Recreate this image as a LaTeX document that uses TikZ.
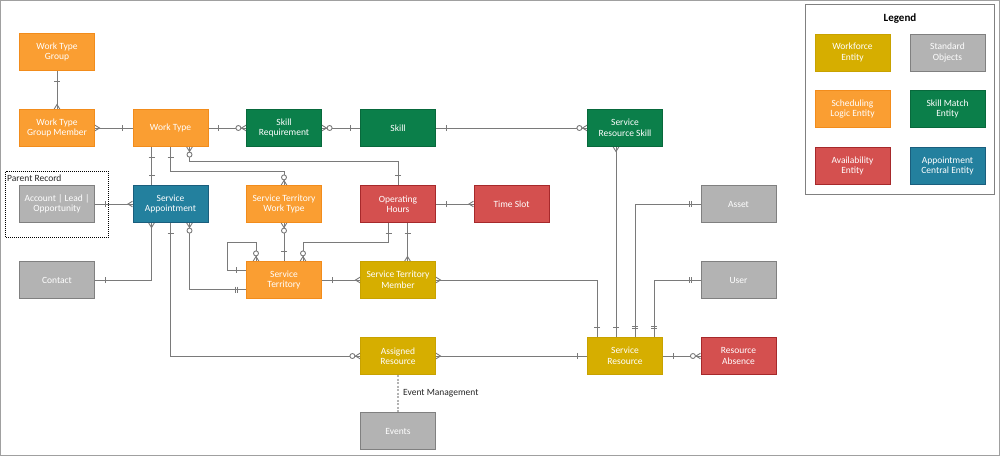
\documentclass[tikz,border=0pt]{standalone}
\usepackage{fontspec}
\setmainfont{Carlito}
\usetikzlibrary{calc}
\definecolor{orgF}{HTML}{FA9E32}\definecolor{orgD}{HTML}{F28C1B}
\definecolor{grnF}{HTML}{0B7F4A}\definecolor{grnD}{HTML}{08693C}
\definecolor{bluF}{HTML}{23809E}\definecolor{bluD}{HTML}{1A5E7D}
\definecolor{redF}{HTML}{D4504F}\definecolor{redD}{HTML}{A6292B}
\definecolor{ylwF}{HTML}{D6AE00}\definecolor{ylwD}{HTML}{C8A200}
\definecolor{gryF}{HTML}{B3B3B3}\definecolor{gryD}{HTML}{808080}
\definecolor{lineC}{HTML}{7A7A7A}
\definecolor{frameC}{HTML}{A0A0A0}
\begin{document}
\begin{tikzpicture}[x=1pt,y=1pt,
  ent/.style={draw, line width=1pt, minimum width=75pt, minimum height=37pt, inner sep=1pt,
    align=center, text=white, font=\fontsize{9.5}{10.5}\selectfont},
  eorg/.style={ent, fill=orgF, draw=orgD},
  egrn/.style={ent, fill=grnF, draw=grnD},
  eblu/.style={ent, fill=bluF, draw=bluD},
  ered/.style={ent, fill=redF, draw=redD},
  eylw/.style={ent, fill=ylwF, draw=ylwD},
  egry/.style={ent, fill=gryF, draw=gryD},
  conn/.style={draw=lineC, line width=0.9pt},
  lbl/.style={font=\fontsize{9.5}{10.5}\selectfont, text=black!85, inner sep=0pt},
  crow/.pic={\draw[conn] (0,2.8)--(4.5,0)--(0,-2.8);},
  ocrow/.pic={\draw[conn] (0,2.8)--(4.5,0)--(0,-2.8);
              \draw[conn, fill=white] (7.6,0) circle[radius=2.5pt];},
  onebar/.pic={\draw[conn] (10,-3)--(10,3);},
  twobar/.pic={\draw[conn] (8.6,-3)--(8.6,3) (11,-3)--(11,3);}
]
\useasboundingbox (0,0) rectangle (1000,-456);
\draw[frameC, line width=1pt] (0.5,-0.5) rectangle (999.5,-455.5);

% entities
\node[eorg] (wtg)  at (57,-52)   {Work Type\\Group};
\node[eorg] (wtgm) at (57,-128)  {Work Type\\Group Member};
\node[eorg] (wt)   at (170.5,-128) {Work Type};
\node[egrn] (sr)   at (284,-128) {Skill\\Requirement};
\node[egrn] (sk)   at (398,-128) {Skill};
\node[egrn] (srs)  at (625,-128) {Service\\Resource Skill};
\node[egry] (acc)  at (57,-204)  {Account | Lead |\\Opportunity};
\node[eblu] (sa)   at (170.5,-204) {Service\\Appointment};
\node[eorg] (stwt) at (284,-204) {Service Territory\\Work Type};
\node[ered] (oh)   at (398,-204) {Operating\\Hours};
\node[ered] (ts)   at (511.5,-204) {Time Slot};
\node[egry] (asset) at (738.5,-204) {Asset};
\node[egry] (contact) at (57,-280) {Contact};
\node[eorg] (st)   at (284,-280) {Service\\Territory};
\node[eylw] (stm)  at (398,-280) {Service Territory\\Member};
\node[egry] (user) at (738.5,-280) {User};
\node[eylw] (ar)   at (398,-356) {Assigned\\Resource};
\node[eylw] (sres) at (625,-356) {Service\\Resource};
\node[ered] (ra)   at (738.5,-356) {Resource\\Absence};
\node[egry] (ev)   at (398,-431) {Events};

% parent record frame
\draw[black, line width=0.8pt, dash pattern=on 1pt off 1pt] (5.5,-171.5) rectangle (108.5,-237);
\node[lbl, anchor=west] (prl) at (7,-178.5) {Parent Record};

% legend
\draw[gryD, line width=1pt] (805,-4.5) rectangle (994.5,-194.5);
\node[lbl, text=black, font=\fontsize{11}{12}\selectfont\bfseries] (legt) at (900,-18.7) {Legend};
\node[eylw] (l1) at (852.5,-52.5) {Workforce\\Entity};
\node[egry] (l2) at (947.5,-52.5) {Standard\\Objects};
\node[eorg] (l3) at (852.5,-109.2) {Scheduling\\Logic Entity};
\node[egrn] (l4) at (947.5,-109.2) {Skill Match\\Entity};
\node[ered] (l5) at (852.5,-166) {Availability\\Entity};
\node[eblu] (l6) at (947.5,-166) {Appointment\\Central Entity};

% connectors
\draw[conn] (wtg.south) -- (wtgm.north);
\path (wtg.south) pic[rotate=270]{onebar} (wtgm.north) pic[rotate=90]{crow};

\draw[conn] (wtgm.east) -- (wt.west);
\path (wtgm.east) pic{crow} (wt.west) pic[rotate=180]{onebar};

\draw[conn] (wt.east) -- (sr.west);
\path (wt.east) pic{onebar} (sr.west) pic[rotate=180]{ocrow};

\draw[conn] (sr.east) -- (sk.west);
\path (sr.east) pic{ocrow} (sk.west) pic[rotate=180]{onebar};

\draw[conn] (sk.east) -- (srs.west);
\path (sk.east) pic{onebar} (srs.west) pic[rotate=180]{ocrow};

\coordinate (srsB) at ([xshift=-9pt]srs.south);
\coordinate (sresA) at ([xshift=-9pt]sres.north);
\draw[conn] (srsB) -- (sresA);
\path (srsB) pic[rotate=270]{crow} (sresA) pic[rotate=90]{onebar};

\coordinate (sresB) at ([xshift=-28pt]sres.north);
\draw[conn] (stm.east) -| (sresB);
\path (stm.east) pic{crow} (sresB) pic[rotate=90]{onebar};

\coordinate (sresC) at ([xshift=10pt]sres.north);
\draw[conn] (asset.west) -| (sresC);
\path (asset.west) pic[rotate=180]{twobar} (sresC) pic[rotate=90]{twobar};

\coordinate (sresD) at ([xshift=29pt]sres.north);
\draw[conn] (user.west) -| (sresD);
\path (user.west) pic[rotate=180]{twobar} (sresD) pic[rotate=90]{twobar};

\draw[conn] (sres.east) -- (ra.west);
\path (sres.east) pic{onebar} (ra.west) pic[rotate=180]{ocrow};

\draw[conn] (ar.east) -- (sres.west);
\path (ar.east) pic{crow} (sres.west) pic[rotate=180]{onebar};

\draw[conn] (sa.south) |- (ar.west);
\path (sa.south) pic[rotate=270]{onebar} (ar.west) pic[rotate=180]{ocrow};

\coordinate (saB) at ([xshift=-19pt]sa.south);
\draw[conn] (saB) |- (contact.east);
\path (saB) pic[rotate=270]{crow} (contact.east) pic{onebar};

\coordinate (saC) at ([xshift=19pt]sa.south);
\coordinate (stA) at ([yshift=-9.5pt]st.west);
\draw[conn] (saC) |- (stA);
\path (saC) pic[rotate=270]{ocrow} (stA) pic[rotate=180]{twobar};

\draw[conn] (acc.east) -- (sa.west);
\path (acc.east) pic{onebar} (sa.west) pic[rotate=180]{crow};

\coordinate (wtB) at ([xshift=-19pt]wt.south);
\coordinate (saT) at ([xshift=-19pt]sa.north);
\draw[conn] (wtB) -- (saT);
\path (wtB) pic[rotate=270]{onebar} (saT) pic[rotate=90]{onebar};

\draw[conn] (wt.south) -- ++(0,-24) -| (stwt.north);
\path (wt.south) pic[rotate=270]{onebar} (stwt.north) pic[rotate=90]{ocrow};

\coordinate (wtC) at ([xshift=19pt]wt.south);
\draw[conn] (wtC) -- ++(0,-14) -| (oh.north);
\path (wtC) pic[rotate=270]{ocrow} (oh.north) pic[rotate=90]{onebar};

\draw[conn] (stwt.south) -- (st.north);
\path (stwt.south) pic[rotate=270]{ocrow} (st.north) pic[rotate=90]{onebar};

\coordinate (stL) at ([yshift=10pt]st.west);
\coordinate (stT1) at ([xshift=-28pt]st.north);
\draw[conn] (stL) -- ++(-19,0) -- ++(0,28) -| (stT1);
\path (stL) pic[rotate=180]{onebar} (stT1) pic[rotate=90]{ocrow};

\coordinate (ohB1) at ([xshift=-9.5pt]oh.south);
\coordinate (stT2) at ([xshift=19pt]st.north);
\draw[conn] (ohB1) -- ++(0,-19) -| (stT2);
\path (ohB1) pic[rotate=270]{onebar} (stT2) pic[rotate=90]{ocrow};

\coordinate (ohB2) at ([xshift=9.5pt]oh.south);
\coordinate (stmT) at ([xshift=9.5pt]stm.north);
\draw[conn] (ohB2) -- (stmT);
\path (ohB2) pic[rotate=270]{onebar} (stmT) pic[rotate=90]{crow};

\draw[conn] (st.east) -- (stm.west);
\path (st.east) pic{onebar} (stm.west) pic[rotate=180]{crow};

\draw[conn] (oh.east) -- (ts.west);
\path (oh.east) pic{onebar} (ts.west) pic[rotate=180]{crow};

\draw[draw=gryF, line width=1.2pt, dash pattern=on 2pt off 1.5pt] (ar.south) -- (ev.north);
\node[lbl, anchor=west] (eml) at (403,-393) {Event Management};
\end{tikzpicture}
\end{document}
